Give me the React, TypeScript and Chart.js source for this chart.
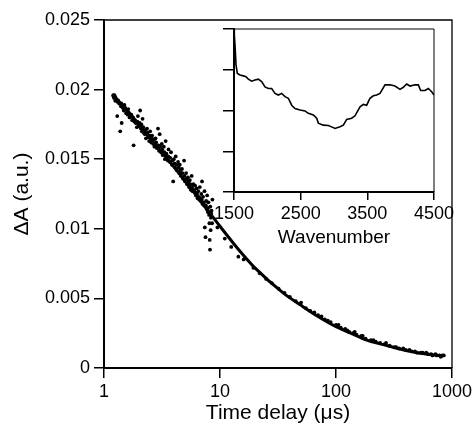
import React, { useEffect, useRef } from 'react';
import { Chart, registerables } from 'chart.js';

Chart.register(...registerables);

// ---- Main chart data ----
const xTicks = [1, 10, 100, 1000];
const xTickLabels = ['1', '10', '100', '1000'];
const yTicks = [0, 0.005, 0.01, 0.015, 0.02, 0.025];
const yTickLabels = ['0', '0.005', '0.01', '0.015', '0.02', '0.025'];

// fitted decay curve
const fitT = [1.2, 1.5, 2, 3, 4, 5, 6, 8, 10, 15, 20, 35, 50, 70, 100, 132, 184, 250, 356, 500, 841];
const fitV = [0.0195, 0.01875, 0.01745, 0.0157, 0.01445, 0.01343, 0.01258, 0.01123, 0.01018, 0.00835, 0.00719, 0.0054, 0.0045, 0.0037, 0.00297, 0.00253, 0.002, 0.0017, 0.00136, 0.0011, 0.00086];

// measured points (time delay, ΔA)
const dotT = [
  1.2, 1.22, 1.24, 1.25, 1.27, 1.3, 1.32, 1.35, 1.38, 1.4, 1.42, 1.45, 1.48, 1.5, 1.55, 1.6, 1.62, 1.66, 1.7, 1.75,
  1.8, 1.82, 1.88, 1.92, 1.96, 2.0, 2.05, 2.08, 2.12, 2.15, 2.2, 2.25, 2.3, 2.35, 2.4, 2.45, 2.5, 2.55, 2.6, 2.66,
  2.72, 2.78, 2.85, 2.92, 2.98, 3.02, 3.1, 3.15, 3.2, 3.28, 3.35, 3.4, 3.48, 3.55, 3.6, 3.7, 3.78, 3.85, 3.95, 4.0,
  4.1, 4.15, 4.25, 4.35, 4.45, 4.5, 4.6, 4.7, 4.8, 4.9, 5.0, 5.1, 5.2, 5.3, 5.4, 5.5, 5.6, 5.7, 5.8, 5.9,
  6.0, 6.1, 6.2, 6.3, 6.4, 6.5, 6.6, 6.7, 6.8, 6.9, 7.0, 7.05, 7.15, 7.25, 7.35, 7.4, 7.45, 7.5, 7.6, 7.7,
  7.75, 7.85, 7.95, 8.05, 8.1, 8.15, 8.2, 8.25, 8.3, 8.35, 8.45, 8.55, 8.6,
  1.21, 1.23, 1.26, 1.29, 1.33, 1.37, 1.41, 1.46, 1.52, 1.58, 1.64, 1.72, 1.78, 1.85, 1.94, 2.03, 2.1, 2.18, 2.28, 2.38,
  2.48, 2.58, 2.7, 2.82, 2.95, 3.05, 3.18, 3.32, 3.45, 3.58, 3.72, 3.88, 4.05, 4.2, 4.4, 4.55, 4.75, 4.95, 5.15, 5.35,
  5.55, 5.75, 5.95, 6.15, 6.35, 6.55, 6.75, 6.95, 7.2, 7.55, 7.9, 8.4,
  9.5, 11, 12.5, 14.4, 16, 19.4, 22, 25, 28, 32, 36, 40, 45, 50, 55, 60, 65, 70, 75, 80,
  85, 90, 100, 110, 120, 130, 140, 150, 165, 180, 200, 220, 240, 260, 290, 320, 350, 400, 450, 500,
  560, 620, 680, 740, 800, 850, 105, 125, 145, 170, 210, 270, 330, 380, 430, 480, 540, 600, 660, 720, 780, 830
];
const dotV = [
  0.0196, 0.0194, 0.0195, 0.0192, 0.0193, 0.0181, 0.0191, 0.019, 0.017, 0.0188, 0.0176, 0.0187, 0.0185, 0.0189, 0.0183, 0.0182, 0.0186, 0.018, 0.0181, 0.0178,
  0.016, 0.0177, 0.0176, 0.0173, 0.0181, 0.0174, 0.0185, 0.0172, 0.017, 0.0179, 0.0169, 0.0168, 0.0165, 0.0172, 0.0166, 0.0163, 0.017, 0.0162, 0.0167, 0.0161,
  0.0159, 0.0165, 0.0158, 0.0172, 0.0156, 0.0168, 0.0155, 0.0161, 0.0153, 0.0159, 0.015, 0.0163, 0.0152, 0.0149, 0.0157, 0.0148, 0.0155, 0.0146, 0.0134, 0.015,
  0.0144, 0.0152, 0.0142, 0.0148, 0.014, 0.0146, 0.0138, 0.0143, 0.0136, 0.0149, 0.0134, 0.014, 0.0132, 0.0137, 0.013, 0.0135, 0.0128, 0.0138, 0.0127, 0.0132,
  0.0127, 0.0131, 0.0124, 0.0129, 0.0122, 0.0127, 0.0121, 0.013, 0.012, 0.0125, 0.0134, 0.0118, 0.0123, 0.0117, 0.0127, 0.0101, 0.0116, 0.0094, 0.012, 0.0114,
  0.0124, 0.0112, 0.0119, 0.011, 0.0104, 0.0092, 0.0085, 0.0116, 0.0099, 0.0108, 0.0113, 0.0104, 0.0121,
  0.0195, 0.0196, 0.0194, 0.0193, 0.0192, 0.019, 0.019, 0.0188, 0.0187, 0.0185, 0.0183, 0.0182, 0.018, 0.0178, 0.0177, 0.0176, 0.0175, 0.0173, 0.0171, 0.0169,
  0.0167, 0.0165, 0.0164, 0.0162, 0.016, 0.0159, 0.0157, 0.0155, 0.0154, 0.0152, 0.0151, 0.0149, 0.0147, 0.0146, 0.0144, 0.0142, 0.014, 0.0138, 0.0136, 0.0134,
  0.0132, 0.013, 0.0128, 0.0126, 0.0125, 0.0123, 0.0122, 0.0121, 0.0119, 0.0117, 0.0115, 0.0111,
  0.0101, 0.0093, 0.0087, 0.008, 0.0078, 0.0072, 0.0068, 0.0064, 0.0061, 0.0057, 0.0054, 0.0051, 0.0048, 0.0047, 0.0043, 0.0041, 0.004, 0.0038, 0.0037, 0.0035,
  0.0034, 0.0033, 0.0031, 0.0029, 0.0028, 0.0026, 0.0025, 0.0024, 0.0023, 0.0021, 0.002, 0.0019, 0.0018, 0.0017, 0.0016, 0.0015, 0.0014, 0.0013, 0.0012, 0.0011,
  0.0011, 0.001, 0.0009, 0.0009, 0.0008, 0.0009, 0.0031, 0.0027, 0.0026, 0.0023, 0.002, 0.0018, 0.0015, 0.0014, 0.0013, 0.0012, 0.0011, 0.0011, 0.001, 0.001, 0.0009, 0.0009
];

// ---- Inset data ----
const insetXTicks = [1500, 2500, 3500, 4500];
const insetXTickLabels = ['1500', '2500', '3500', '4500'];
const insetYTicks = [0, 1, 2, 3, 4];
const insetWn = [
  1500, 1505, 1515, 1530, 1550, 1590, 1640, 1680, 1715, 1765, 1815, 1865, 1915, 1965, 2015, 2065, 2115, 2165, 2215, 2265,
  2315, 2365, 2415, 2490, 2565, 2615, 2690, 2740, 2765, 2840, 2915, 2990, 3015, 3090, 3140, 3190, 3265, 3315, 3390, 3440,
  3490, 3540, 3590, 3640, 3690, 3765, 3840, 3915, 3990, 4040, 4090, 4140, 4215, 4265, 4300, 4365, 4415, 4465, 4500
];
const insetVal = [
  3.98, 3.85, 3.61, 3.12, 2.91, 2.87, 2.85, 2.83, 2.77, 2.72, 2.75, 2.77, 2.71, 2.58, 2.54, 2.54, 2.42, 2.38, 2.42, 2.34,
  2.3, 2.13, 2.05, 2.01, 1.99, 1.93, 1.89, 1.81, 1.69, 1.64, 1.63, 1.58, 1.56, 1.6, 1.64, 1.78, 1.81, 1.87, 2.09, 2.15,
  2.13, 2.3, 2.36, 2.38, 2.42, 2.63, 2.63, 2.6, 2.52, 2.57, 2.65, 2.6, 2.63, 2.63, 2.49, 2.49, 2.54, 2.46, 2.38
];

const FONT = "'Liberation Sans', Arial, Helvetica, sans-serif";

const framePlugin = (id: string, w: number) => ({
  id,
  afterDatasetsDraw(chart: any) {
    const { ctx, chartArea } = chart;
    const { left, top, right, bottom } = chartArea;
    ctx.save();
    ctx.strokeStyle = '#000';
    ctx.lineWidth = w;
    ctx.beginPath();
    ctx.moveTo(left, top);
    ctx.lineTo(right, top);
    ctx.lineTo(right, bottom);
    ctx.stroke();
    ctx.restore();
  },
});

export default function App() {
  const mainRef = useRef<HTMLCanvasElement>(null);
  const insetRef = useRef<HTMLCanvasElement>(null);

  useEffect(() => {
    Chart.defaults.font.family = FONT;
    Chart.defaults.color = '#000';

    const main = new Chart(mainRef.current!, {
      type: 'scatter',
      data: {
        datasets: [
          {
            label: 'data',
            data: dotT.map((t, i) => ({ x: t, y: dotV[i] })),
            showLine: false,
            pointRadius: 1.9,
            pointHoverRadius: 1.9,
            pointBackgroundColor: '#000',
            pointBorderWidth: 0,
          },
          {
            label: 'fit',
            data: fitT.map((t, i) => ({ x: t, y: fitV[i] })),
            showLine: true,
            borderColor: '#000',
            borderWidth: 3,
            pointRadius: 0,
            cubicInterpolationMode: 'monotone',
          },
        ],
      },
      options: {
        animation: false,
        responsive: false,
        layout: { padding: { left: 0, top: 20, right: 24, bottom: 0 } },
        plugins: { legend: { display: false }, tooltip: { enabled: false } },
        scales: {
          x: {
            type: 'logarithmic',
            min: 1,
            max: 1000,
            afterBuildTicks: (s: any) => {
              s.ticks = xTicks.map((v) => ({ value: v }));
            },
            afterFit: (s: any) => {
              s.height = 60;
            },
            ticks: {
              callback: (_v: any, i: number) => xTickLabels[i],
              font: { size: 18 },
              color: '#000',
              padding: 3,
              maxRotation: 0,
              autoSkip: false,
            },
            grid: { drawOnChartArea: false, drawTicks: true, tickLength: 10, color: '#000', lineWidth: 1.5 },
            border: { display: true, color: '#000', width: 2 },
            title: { display: true, text: 'Time delay (μs)', font: { size: 21 }, color: '#000', padding: { top: 0, bottom: 2 } },
          },
          y: {
            type: 'linear',
            min: 0,
            max: 0.025,
            afterBuildTicks: (s: any) => {
              s.ticks = yTicks.map((v) => ({ value: v }));
            },
            afterFit: (s: any) => {
              s.width = 104;
            },
            ticks: {
              callback: (_v: any, i: number) => yTickLabels[i],
              font: { size: 18 },
              color: '#000',
              padding: 4,
              autoSkip: false,
            },
            grid: { drawOnChartArea: false, drawTicks: true, tickLength: 10, color: '#000', lineWidth: 1.5 },
            border: { display: true, color: '#000', width: 2 },
            title: { display: true, text: 'ΔA (a.u.)', font: { size: 21 }, color: '#000', padding: { top: 10, bottom: 0 } },
          },
        },
      },
      plugins: [framePlugin('mainFrame', 1.3)],
    } as any);

    const inset = new Chart(insetRef.current!, {
      type: 'scatter',
      data: {
        datasets: [
          {
            label: 'spectrum',
            data: insetWn.map((w, i) => ({ x: w, y: insetVal[i] })),
            showLine: true,
            borderColor: '#000',
            borderWidth: 1.6,
            pointRadius: 0,
          },
        ],
      },
      options: {
        animation: false,
        responsive: false,
        layout: { padding: { left: 223, top: 29, right: 42, bottom: 176 } },
        plugins: { legend: { display: false }, tooltip: { enabled: false } },
        scales: {
          x: {
            type: 'linear',
            min: 1500,
            max: 4500,
            afterBuildTicks: (s: any) => {
              s.ticks = insetXTicks.map((v) => ({ value: v }));
            },
            afterFit: (s: any) => {
              s.height = 60;
            },
            ticks: {
              callback: (_v: any, i: number) => insetXTickLabels[i],
              font: { size: 18 },
              color: '#000',
              padding: 3,
              maxRotation: 0,
              autoSkip: false,
            },
            grid: { drawOnChartArea: false, drawTicks: true, tickLength: 8, color: '#000', lineWidth: 1.5 },
            border: { display: true, color: '#000', width: 2 },
            title: { display: true, text: 'Wavenumber', font: { size: 19 }, color: '#000', padding: { top: 0, bottom: 3 } },
          },
          y: {
            type: 'linear',
            min: 0,
            max: 4,
            afterBuildTicks: (s: any) => {
              s.ticks = insetYTicks.map((v) => ({ value: v }));
            },
            afterFit: (s: any) => {
              s.width = 11;
            },
            ticks: { callback: () => '', padding: 0, autoSkip: false },
            grid: { drawOnChartArea: false, drawTicks: true, tickLength: 11, color: '#000', lineWidth: 1.5 },
            border: { display: true, color: '#000', width: 2 },
          },
        },
      },
      plugins: [framePlugin('insetFrame', 1)],
    } as any);

    return () => {
      main.destroy();
      inset.destroy();
    };
  }, []);

  return (
    <div style={{ position: 'fixed', left: 0, top: 0, width: 476, height: 428, background: '#fff' }}>
      <canvas ref={mainRef} width={476} height={428} style={{ position: 'absolute', left: 0, top: 0 }} />
      <canvas ref={insetRef} width={476} height={428} style={{ position: 'absolute', left: 0, top: 0 }} />
    </div>
  );
}
